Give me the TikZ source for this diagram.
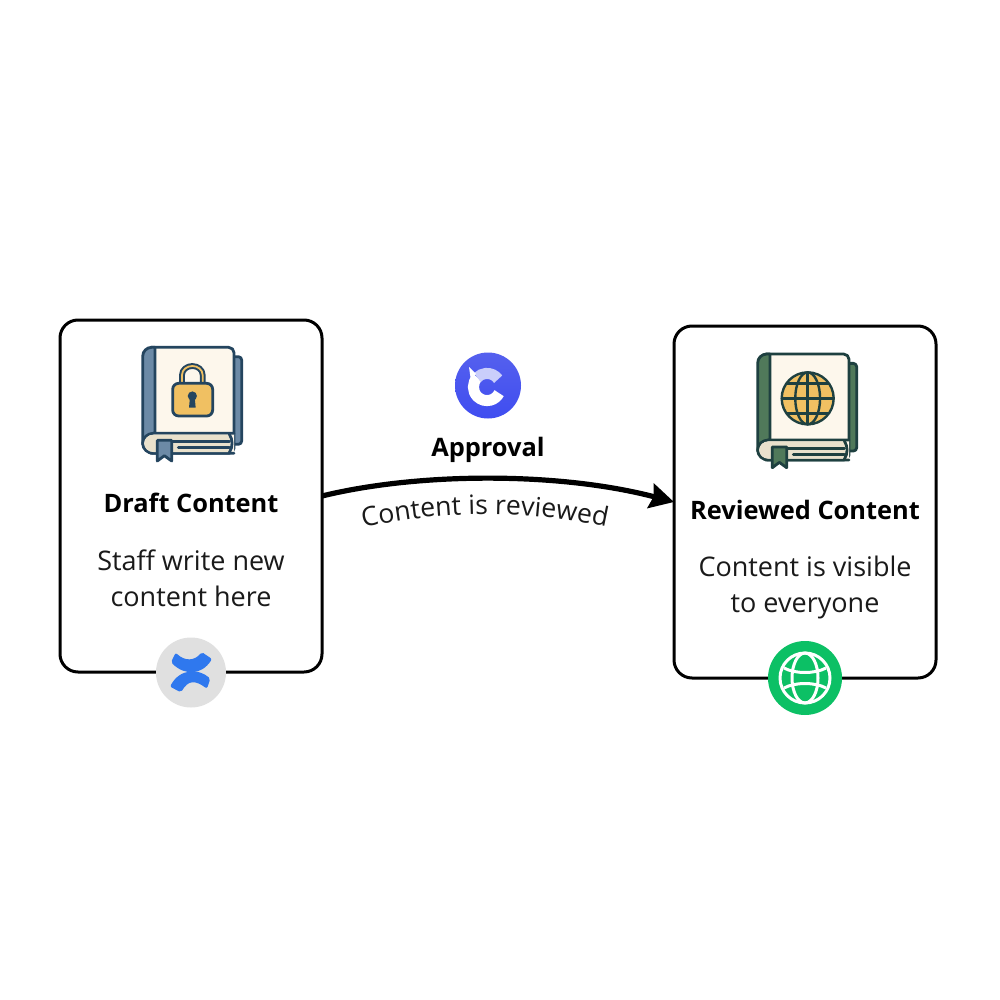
\documentclass[tikz,border=0pt]{standalone}
\usepackage{fontspec}
\setmainfont{Open Sans}
\usetikzlibrary{arrows.meta,decorations.text}
\definecolor{inkA}{HTML}{24455F}
\definecolor{spineA}{HTML}{6C8AA6}
\definecolor{inkB}{HTML}{1E4040}
\definecolor{spineB}{HTML}{50795A}
\definecolor{coverc}{HTML}{FDF7EC}
\definecolor{pagec}{HTML}{E9E1CC}
\definecolor{goldc}{HTML}{F0C062}
\definecolor{textc}{HTML}{1A1A1A}
\definecolor{logotop}{HTML}{5560EE}
\definecolor{logobot}{HTML}{3F4DF0}
\definecolor{lavc}{HTML}{CACEFB}
\definecolor{confc}{HTML}{2F78EE}
\definecolor{webc}{HTML}{0CC065}
\tikzset{
  card/.style={draw=black,line width=1.5pt,fill=white,rounded corners=9pt,minimum width=131pt,minimum height=176pt,outer sep=0pt,inner sep=0pt},
  titletext/.style={font=\fontsize{12.7pt}{14pt}\selectfont\bfseries,text=black,inner sep=0pt,anchor=base},
  bodytext/.style={font=\fontsize{13.5pt}{15pt}\selectfont,text=textc,inner sep=0pt,anchor=base},
  badge/.style={circle,inner sep=0pt,outer sep=0pt},
  zoomunits/.style={x=0.16667pt,y=-0.16667pt},
}
\newcommand{\bookicon}[4]{%
\begin{scope}[shift={(#1,#2)},zoomunits,line join=round,line cap=round,line width=1.4pt]
  \filldraw[fill=#4,draw=#3] (300,65) -- (325,65) to[out=0,in=90] (335,75) -- (335,318) to[out=-90,in=0] (325,328) -- (300,328) -- cycle;
  \filldraw[fill=coverc,draw=#3] (62,37) -- (296,37) to[out=0,in=90] (312,53) -- (312,340) to[out=-90,in=0] (296,355) -- (62,355) -- cycle;
  \filldraw[fill=#4,draw=#3] (75,37) -- (65,37) to[out=180,in=90] (38,64) -- (38,325) to[out=-90,in=180] (70,295) -- (75,295) -- cycle;
  \filldraw[fill=coverc,draw=#3] (312,295) -- (70,295) to[out=180,in=90] (38,325) to[out=-90,in=180] (70,355) -- (312,355);
  \fill[pagec] (70,299) to[out=180,in=90] (43,325) to[out=-90,in=180] (70,351) -- (300,351) -- (300,299) -- cycle;
  \draw[#3] (130,320) -- (298,320);
  \draw[#3] (145,338) -- (298,338);
  \draw[#3] (298,297) to[out=-60,in=60] (298,353);
  \filldraw[fill=#4,draw=#3] (82,316) -- (125,316) -- (125,378) -- (103,362) -- (82,378) -- cycle;
\end{scope}}
\begin{document}
\begin{tikzpicture}[x=0.5pt,y=-0.5pt]
\useasboundingbox (0,0) rectangle (1000,1000);
\fill[white] (0,0) rectangle (1000,1000);

\node[card] (draft) at (191,496) {};
\node[card] (reviewed) at (805,502) {};

% book with padlock
\bookicon{130}{335}{inkA}{spineA}
\begin{scope}[shift={(130,335)},zoomunits,line width=1.4pt,line join=round]
  \draw[inkA,line width=2.9pt] (156,150) -- (156,120) to[out=90,in=180] (187,93) to[out=0,in=90] (218,120) -- (218,150);
  \draw[goldc,line width=0.9pt] (156,150) -- (156,120) to[out=90,in=180] (187,93) to[out=0,in=90] (218,120) -- (218,150);
  \filldraw[fill=goldc,draw=inkA,rounded corners=3pt] (128,145) rectangle (248,243);
  \fill[inkA] (187,183) circle[radius=2.3pt];
  \fill[inkA] (180,186) -- (194,186) -- (197,218) -- (177,218) -- cycle;
\end{scope}

% book with globe
\bookicon{745}{341.7}{inkB}{spineB}
\begin{scope}[shift={(745,341.7)},zoomunits,inkB,line width=1.2pt]
  \filldraw[fill=goldc] (188,170) circle[radius=13pt];
  \draw (188,170) ellipse[x radius=6.2pt,y radius=13pt];
  \draw (188,92) -- (188,248);
  \draw (110,170) -- (266,170);
  \draw (124,125) -- (252,125);
  \draw (124,215) -- (252,215);
\end{scope}

% approval logo
\node[badge,top color=logotop,bottom color=logobot,minimum size=33pt] (logo) at (488,385.5) {};
\draw[white,line width=5.5pt] (487,387) ++(135:6.8pt) arc[start angle=135,end angle=333,radius=6.8pt];
\draw[lavc,line width=5.5pt] (487,387) ++(35:6.8pt) arc[start angle=35,end angle=135,radius=6.8pt];
\fill[white] (476,374) -- (469,367) -- (471,381) -- cycle;

% badges
\node[badge,fill=black!12,minimum size=35pt] (confluence) at (191,672.5) {};
\begin{scope}[shift={(145,630)},zoomunits]
  \fill[confc,rounded corners=1pt] (92,68) .. controls (120,95) and (150,92) .. (170,66) -- (201,87) .. controls (170,135) and (120,138) .. (78,97) -- cycle;
  \fill[confc,rounded corners=1pt] (75,170) .. controls (105,115) and (160,115) .. (196,146) -- (186,176) .. controls (150,150) and (130,150) .. (108,187) -- cycle;
\end{scope}

\node[badge,fill=webc,minimum size=37pt] (web) at (805,678) {};
\begin{scope}[shift={(805,678)},white,line width=1.5pt]
  \draw (0,0) circle[radius=12.5pt];
  \draw (0,0) ellipse[x radius=6.5pt,y radius=12.5pt];
  \draw (-21,-10) .. controls (-10,-4) and (10,-4) .. (21,-10);
  \draw (-21,10) .. controls (-10,4) and (10,4) .. (21,10);
\end{scope}

% connector
\draw[black,line width=2.6pt,-{Stealth[length=12pt,width=12.5pt,inset=1.5pt]}] (draft.east) .. controls (420,472) and (560,472) .. (reviewed.west);

% labels
\node[titletext] (approval) at (488,456) {Approval};
\node[titletext] (drafttitle) at (191,512) {Draft Content};
\node[bodytext] (draftl1) at (191,570) {Staff write new};
\node[bodytext] (draftl2) at (191,606) {content here};
\node[titletext] (revtitle) at (805,519) {Reviewed Content};
\node[bodytext] (revl1) at (805,576) {Content is visible};
\node[bodytext] (revl2) at (805,612) {to everyone};

\path[decorate,decoration={text along path,text align=center,text={|\fontsize{13.3pt}{15pt}\selectfont\color{textc}|Content is reviewed}}]
  (355,530) .. controls (440,509) and (530,509) .. (615,529);
\end{tikzpicture}
\end{document}
